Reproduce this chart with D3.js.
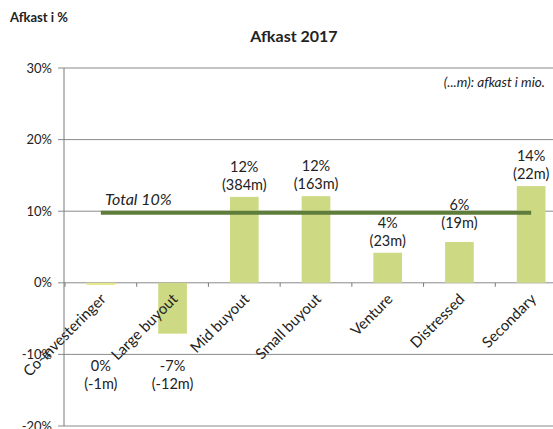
<!DOCTYPE html>
<html>
<head>
<meta charset="utf-8">
<script src="https://cdn.jsdelivr.net/npm/d3@7"></script>
<style>
  body { margin: 0; background: #fff; }
  svg { display: block; font-family: Lato, 'Open Sans', sans-serif; }
</style>
</head>
<body>
<div id="chart"></div>
<script>
'use strict';

const categories = ['Co-investeringer', 'Large buyout', 'Mid buyout', 'Small buyout',
  'Venture', 'Distressed', 'Secondary'];
const returns = [-0.3, -7.1, 12.0, 12.1, 4.2, 5.7, 13.5];
const pctLabels = ['0%', '-7%', '12%', '12%', '4%', '6%', '14%'];
const mioLabels = ['(-1m)', '(-12m)', '(384m)', '(163m)', '(23m)', '(19m)', '(22m)'];
const yTicks = [-20, -10, 0, 10, 20, 30];
const totalReturn = 9.8;
const totalLabel = 'Total 10%';

const width = 553;
const height = 429;

const svg = d3.select('#chart')
  .append('svg')
  .attr('width', width)
  .attr('height', height);

const y = d3.scaleLinear().domain([-20, 30]).range([426, 68]);
const x = d3.scaleBand()
  .domain(categories)
  .range([65, 567])
  .paddingInner(0.6)
  .paddingOuter(0.3);

const axisX = 64;

// gridlines
svg.append('g')
  .selectAll('line')
  .data(yTicks)
  .enter()
  .append('line')
  .attr('x1', axisX - 6)
  .attr('x2', width)
  .attr('y1', (d) => y(d))
  .attr('y2', (d) => y(d))
  .attr('stroke', '#8a8a8a')
  .attr('stroke-width', 1);

// y axis line
svg.append('line')
  .attr('x1', axisX).attr('x2', axisX)
  .attr('y1', y(30)).attr('y2', y(-20))
  .attr('stroke', '#7a7a7a');

// y tick labels
svg.append('g')
  .selectAll('text')
  .data(yTicks)
  .enter()
  .append('text')
  .attr('x', 52)
  .attr('y', (d) => y(d))
  .attr('dy', '0.35em')
  .attr('text-anchor', 'end')
  .attr('font-size', 13)
  .attr('fill', '#222')
  .text((d) => d + '%');

// small ticks on the zero line between categories
const step = x.step();
svg.append('g')
  .selectAll('line')
  .data(d3.range(categories.length + 1))
  .enter()
  .append('line')
  .attr('x1', (i) => x.range()[0] + i * step)
  .attr('x2', (i) => x.range()[0] + i * step)
  .attr('y1', y(0))
  .attr('y2', y(0) + 4)
  .attr('stroke', '#7a7a7a');

// bars
svg.append('g')
  .selectAll('rect')
  .data(returns)
  .enter()
  .append('rect')
  .attr('x', (d, i) => x(categories[i]))
  .attr('width', x.bandwidth())
  .attr('y', (d) => y(Math.max(0, d)))
  .attr('height', (d) => Math.abs(y(d) - y(0)))
  .attr('fill', (d) => (Math.abs(d) < 1 ? '#e6e88c' : '#cdd983'));

// total line
const lineY = y(totalReturn);
svg.append('line')
  .attr('x1', x(categories[0]) + x.bandwidth() / 2)
  .attr('x2', x(categories[categories.length - 1]) + x.bandwidth() / 2)
  .attr('y1', lineY)
  .attr('y2', lineY)
  .attr('stroke', '#5e7d3b')
  .attr('stroke-width', 4);

svg.append('text')
  .attr('x', 105)
  .attr('y', lineY - 8)
  .attr('font-size', 16)
  .attr('font-style', 'italic')
  .attr('fill', '#222')
  .text(totalLabel);

// value labels
const labelPos = (d) => {
  if (d < 0) return y(-10) + 17;
  let base = y(d) - 25;
  // keep the labels clear of the total line
  if (base > lineY - 14 && base - 10 < lineY + 4) base = lineY - 3;
  return base;
};

const labels = svg.append('g')
  .selectAll('g')
  .data(returns)
  .enter()
  .append('g')
  .attr('font-size', 14.5)
  .attr('fill', '#222')
  .attr('text-anchor', 'middle');

labels.append('text')
  .attr('x', (d, i) => x(categories[i]) + x.bandwidth() / 2)
  .attr('y', labelPos)
  .text((d, i) => pctLabels[i]);

labels.append('text')
  .attr('x', (d, i) => x(categories[i]) + x.bandwidth() / 2)
  .attr('y', (d) => labelPos(d) + 18)
  .text((d, i) => mioLabels[i]);

// category labels
svg.append('g')
  .selectAll('text')
  .data(categories)
  .enter()
  .append('text')
  .attr('transform', (d) =>
    'translate(' + (x(d) + x.bandwidth() / 2 + 6) + ',' + 300 + ') rotate(-45)')
  .attr('text-anchor', 'end')
  .attr('font-size', 15)
  .attr('fill', '#222')
  .text((d) => d);

// titles
svg.append('text')
  .attr('x', 10)
  .attr('y', 22)
  .attr('font-size', 13)
  .attr('font-weight', 'bold')
  .attr('fill', '#222')
  .text('Afkast i %');

svg.append('text')
  .attr('x', 294)
  .attr('y', 42)
  .attr('text-anchor', 'middle')
  .attr('font-size', 16)
  .attr('font-weight', 'bold')
  .attr('fill', '#222')
  .text('Afkast 2017');

svg.append('text')
  .attr('x', 545)
  .attr('y', 87)
  .attr('text-anchor', 'end')
  .attr('font-size', 13.5)
  .attr('font-style', 'italic')
  .attr('fill', '#222')
  .text('(...m): afkast i mio.');
</script>
</body>
</html>
